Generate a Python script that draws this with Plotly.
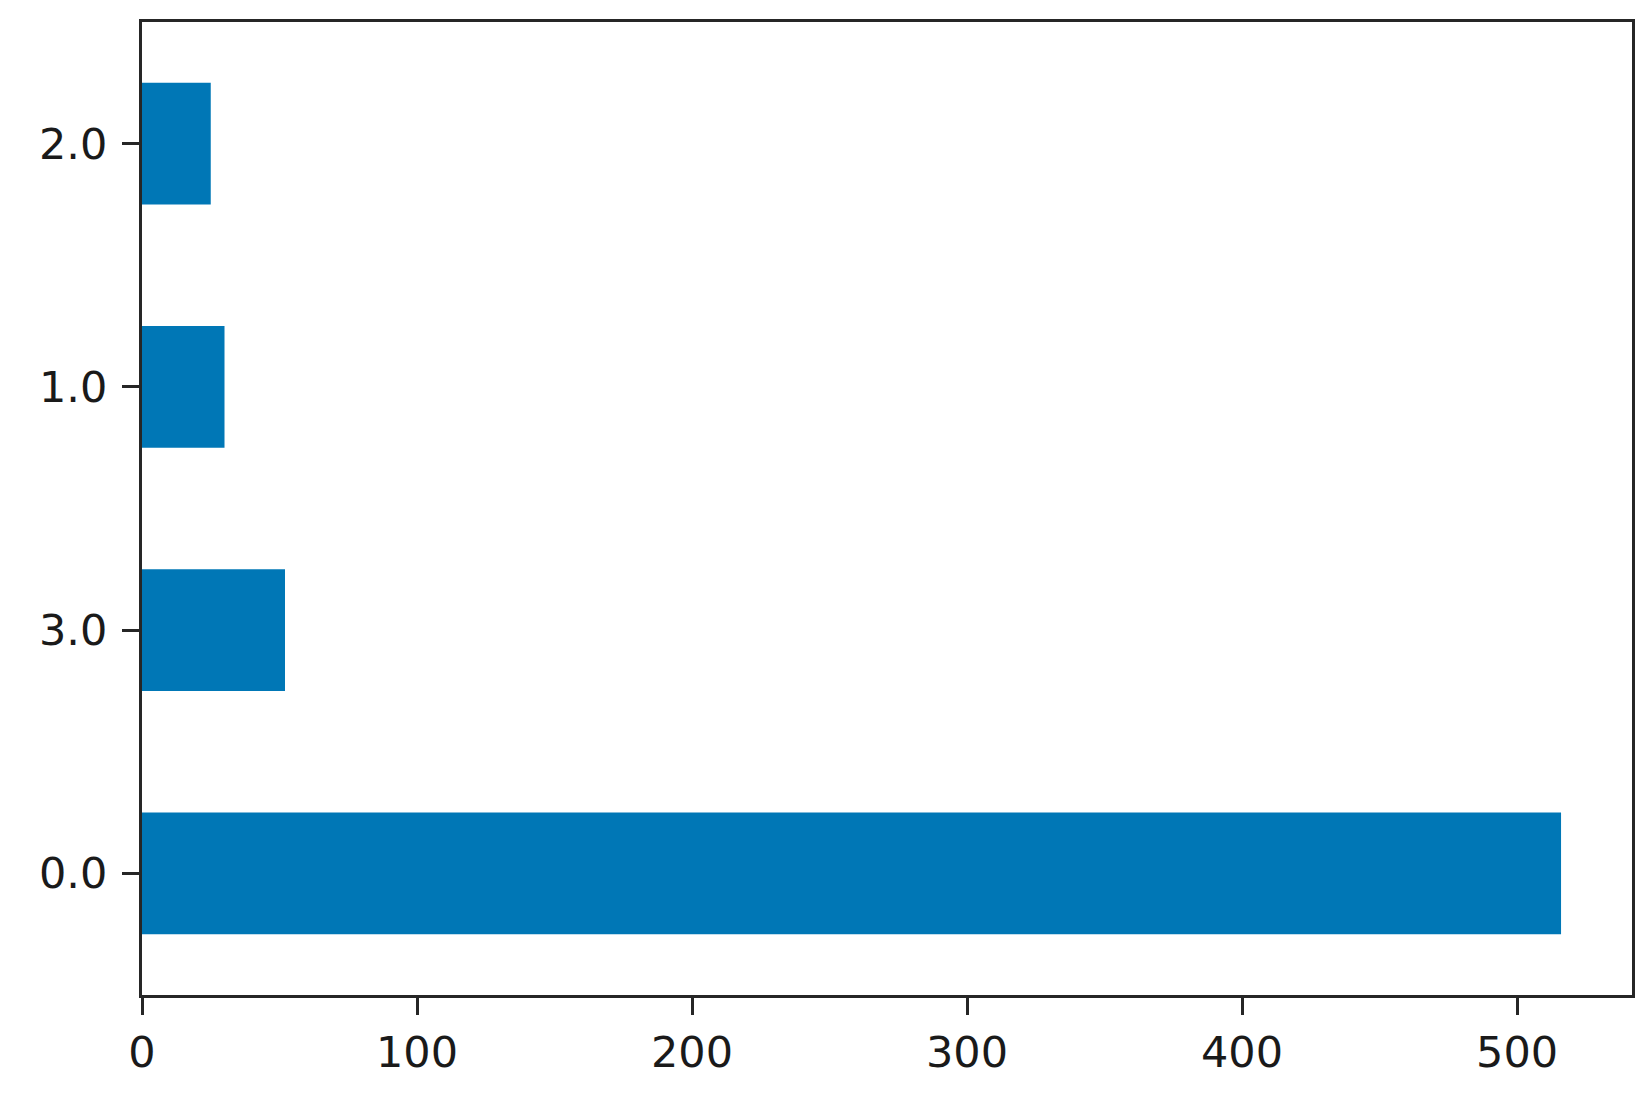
import plotly.graph_objects as go

# value counts, in the order pandas drew them (bottom to top)
categories = ['0.0', '3.0', '1.0', '2.0']
counts = [516, 52, 30, 25]
x_ticks = [0, 100, 200, 300, 400, 500]

bar_color = '#0077b6'
axis_color = '#262626'

# page body has an 8px margin, so shrink the figure to keep it inside the window
fig = go.Figure()
fig.add_trace(go.Bar(
    x=counts,
    y=categories,
    orientation='h',
    width=0.5,
    marker=dict(color=bar_color, line=dict(width=0)),
))

fig.update_layout(
    width=1635,
    height=1078,
    margin=dict(l=134, r=8, t=14, b=91),
    plot_bgcolor='white',
    paper_bgcolor='white',
    showlegend=False,
    font=dict(family='DejaVu Sans', size=43, color='#1a1a1a'),
)

fig.update_xaxes(
    range=[0, max(counts) * 1.05],
    tickvals=x_ticks,
    ticktext=[str(t) for t in x_ticks],
    showgrid=False,
    zeroline=False,
    showline=True,
    linecolor=axis_color,
    linewidth=3,
    mirror=True,
    ticks='outside',
    ticklen=17,
    tickwidth=3,
    tickcolor=axis_color,
)
fig.update_yaxes(
    type='category',
    categoryorder='array',
    categoryarray=categories,
    range=[-0.5, 3.5],
    showgrid=False,
    zeroline=False,
    showline=True,
    linecolor=axis_color,
    linewidth=3,
    mirror=True,
    ticks='outside',
    ticklen=17,
    tickwidth=3,
    tickcolor=axis_color,
    ticklabelstandoff=6,
)

fig.write_html('out.html')
